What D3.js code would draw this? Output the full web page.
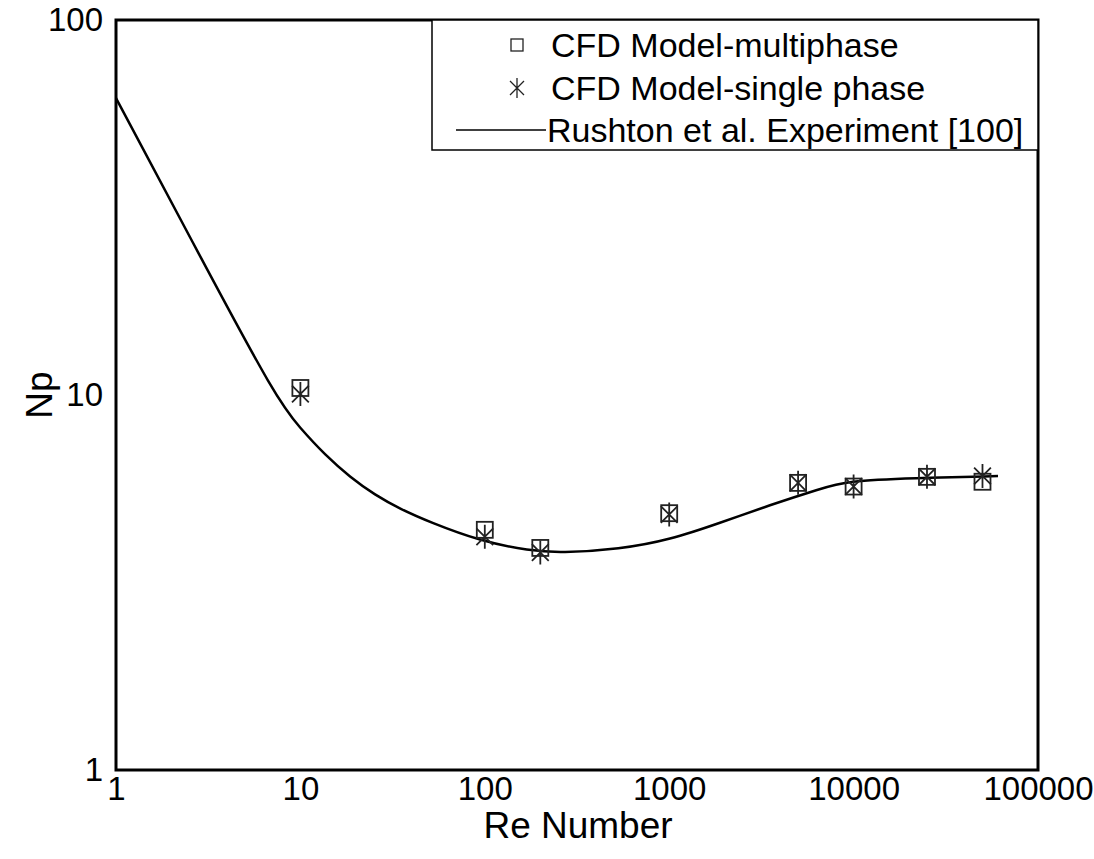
<html>
<head>
  <meta charset="utf-8">
  <title>Np vs Re</title>
  <script src="https://cdnjs.cloudflare.com/ajax/libs/d3/7.8.5/d3.min.js"></script>
  <style>
    body { margin: 0; background: #fff; }
    text { font-family: "Liberation Sans", Arial, sans-serif; fill: #000; }
  </style>
</head>
<body>
  <svg></svg>
  <script>
// data
var reMulti = [10, 100, 200, 1000, 5000, 10000, 25000, 50000];
var npMulti = [10.44, 4.37, 3.91, 4.84, 5.83, 5.70, 6.05, 5.87];

var reSingle = [10, 100, 200, 1000, 5000, 10000, 25000, 50000];
var npSingle = [10.06, 4.19, 3.80, 4.80, 5.83, 5.70, 6.05, 6.08];

// Rushton et al. curve
var reRush = [1, 2.85, 7.47, 9.95, 13.6, 18.6, 25.4, 34.7, 50.4, 94.2, 176, 256, 541, 1010, 1885, 3520, 6575, 9200, 21000, 60700];
var npRush = [61.9, 23.5, 9.7, 8.17, 6.92, 6.04, 5.41, 4.97, 4.58, 4.08, 3.84, 3.79, 3.88, 4.11, 4.56, 5.09, 5.62, 5.90, 6.0, 6.08];

var xTicks = [1, 10, 100, 1000, 10000, 100000];
var yTicks = [1, 10, 100];

var legendLabels = ["CFD Model-multiphase", "CFD Model-single phase", "Rushton et al. Experiment [100]"];

var w = 1094, h = 859;
var margin = {left: 116, right: 56, top: 20, bottom: 89};

var svg = d3.select("svg").attr("width", w).attr("height", h);

var x = d3.scaleLog().domain([1, 100000]).range([margin.left, w - margin.right]);
var y = d3.scaleLog().domain([1, 100]).range([h - margin.bottom, margin.top]);

// plot frame
svg.append("rect")
  .attr("x", x(1)).attr("y", y(100))
  .attr("width", x(100000) - x(1)).attr("height", y(1) - y(100))
  .attr("fill", "none").attr("stroke", "#000").attr("stroke-width", 3);

// axes (labels only, no tick marks)
var xAxis = svg.append("g")
  .attr("transform", "translate(0," + y(1) + ")")
  .call(d3.axisBottom(x).tickValues(xTicks).tickFormat(d3.format("d")).tickSize(0).tickPadding(7));
xAxis.select(".domain").remove();
xAxis.selectAll("text").style("font-size", "33px").attr("font-family", null);

var yAxis = svg.append("g")
  .attr("transform", "translate(" + x(1) + ",0)")
  .call(d3.axisLeft(y).tickValues(yTicks).tickFormat(d3.format("d")).tickSize(0).tickPadding(13));
yAxis.select(".domain").remove();
yAxis.selectAll("text").style("font-size", "33px").attr("font-family", null);

// axis titles
svg.append("text")
  .attr("x", 578)
  .attr("y", 838)
  .attr("text-anchor", "middle")
  .style("font-size", "37px")
  .text("Re Number");

svg.append("text")
  .attr("transform", "translate(52," + 395 + ") rotate(-90)")
  .attr("text-anchor", "middle")
  .style("font-size", "37px")
  .text("Np");

// experiment curve (smooth spline)
var line = d3.line()
  .x(function(d, i) { return x(reRush[i]); })
  .y(function(d) { return y(d); })
  .curve(d3.curveBasis);

svg.append("path")
  .datum(npRush)
  .attr("d", line)
  .attr("fill", "none")
  .attr("stroke", "#000")
  .attr("stroke-width", 2.5);

// marker helpers
var sq = 16;
function starPath(s) {
  var a = s * 0.7;
  return "M0," + (-s) + "L0," + s +
    "M" + (-a) + "," + (-a) + "L" + a + "," + a +
    "M" + (-a) + "," + a + "L" + a + "," + (-a);
}

svg.append("g").selectAll("rect")
  .data(npMulti)
  .enter()
  .append("rect")
  .attr("x", function(d, i) { return x(reMulti[i]) - sq / 2; })
  .attr("y", function(d) { return y(d) - sq / 2; })
  .attr("width", sq).attr("height", sq)
  .attr("fill", "none").attr("stroke", "#222").attr("stroke-width", 1.8);

svg.append("g").selectAll("path")
  .data(npSingle)
  .enter()
  .append("path")
  .attr("transform", function(d, i) { return "translate(" + x(reSingle[i]) + "," + y(d) + ")"; })
  .attr("d", starPath(12))
  .attr("fill", "none").attr("stroke", "#222").attr("stroke-width", 1.8);

// legend
var lg = svg.append("g");
lg.append("rect")
  .attr("x", 432).attr("y", 20)
  .attr("width", x(100000) - 432).attr("height", 130)
  .attr("fill", "#fff").attr("stroke", "#000").attr("stroke-width", 1.5);

var rowY = [45, 88, 130];
lg.append("rect")
  .attr("x", 511).attr("y", rowY[0] - 6)
  .attr("width", 12).attr("height", 12)
  .attr("fill", "none").attr("stroke", "#222").attr("stroke-width", 1.3);
lg.append("path")
  .attr("transform", "translate(517," + rowY[1] + ")")
  .attr("d", starPath(10))
  .attr("fill", "none").attr("stroke", "#222").attr("stroke-width", 1.3);
lg.append("line")
  .attr("x1", 456).attr("x2", 546)
  .attr("y1", rowY[2]).attr("y2", rowY[2])
  .attr("stroke", "#000").attr("stroke-width", 1.5);

lg.selectAll("text.lab")
  .data(legendLabels)
  .enter()
  .append("text")
  .attr("class", "lab")
  .attr("x", function(d, i) { return i == 2 ? 547 : 551; })
  .attr("y", function(d, i) { return rowY[i] + 12; })
  .style("font-size", "34px")
  .text(function(d) { return d; });
  </script>
</body>
</html>
